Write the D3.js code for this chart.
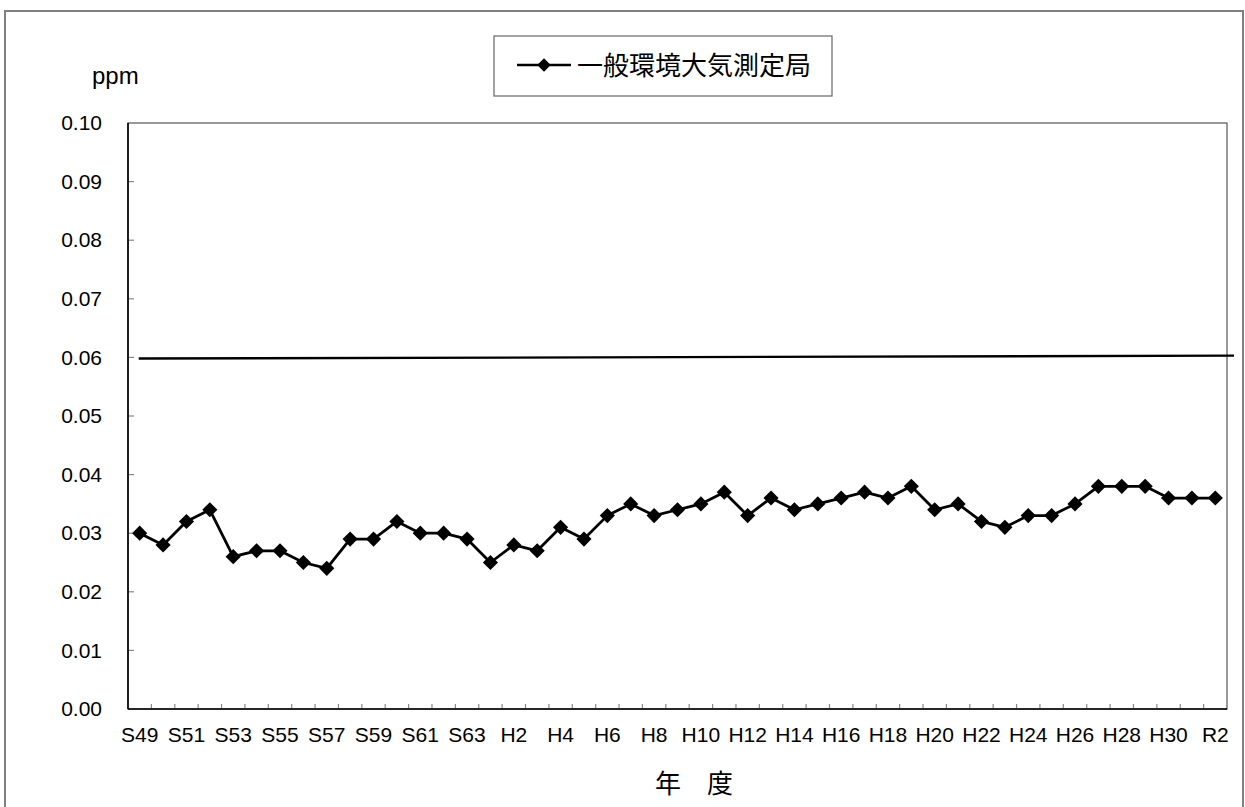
<!DOCTYPE html>
<html>
<head>
<meta charset="utf-8">
<script src="https://cdn.jsdelivr.net/npm/d3@7"></script>
<style>
    body { margin: 0; background: #fff; }
    svg text { font-family: "Liberation Sans", Arial, sans-serif; fill: #000; }
    svg text.jp { font-family: "Noto Sans CJK JP", sans-serif; }
</style>
</head>
<body>
<div id="chart"></div>
<script>
// fiscal years, Showa 49 .. Reiwa 2
var years = ['S49', 'S50', 'S51', 'S52', 'S53', 'S54', 'S55', 'S56', 'S57', 'S58',
    'S59', 'S60', 'S61', 'S62', 'S63',
    'H1', 'H2', 'H3', 'H4', 'H5', 'H6', 'H7', 'H8', 'H9', 'H10',
    'H11', 'H12', 'H13', 'H14', 'H15', 'H16', 'H17', 'H18', 'H19', 'H20',
    'H21', 'H22', 'H23', 'H24', 'H25', 'H26', 'H27', 'H28', 'H29', 'H30',
    'R1', 'R2'];

// 一般環境大気測定局 (ppm)
var generalStation = [0.030, 0.028, 0.032, 0.034, 0.026, 0.027, 0.027, 0.025, 0.024, 0.029,
    0.029, 0.032, 0.030, 0.030, 0.029,
    0.025, 0.028, 0.027, 0.031, 0.029, 0.033, 0.035, 0.033, 0.034, 0.035,
    0.037, 0.033, 0.036, 0.034, 0.035, 0.036, 0.037, 0.036, 0.038, 0.034,
    0.035, 0.032, 0.031, 0.033, 0.033, 0.035, 0.038, 0.038, 0.038, 0.036,
    0.036, 0.036];

// drawn standard line (start / end value, it is a little tilted in the original)
var standardLine = [0.0598, 0.0603];

var yTicks = [0, 0.01, 0.02, 0.03, 0.04, 0.05, 0.06, 0.07, 0.08, 0.09, 0.10];
var xTickLabels = ['S49', 'S51', 'S53', 'S55', 'S57', 'S59', 'S61', 'S63', 'H2', 'H4',
    'H6', 'H8', 'H10', 'H12', 'H14', 'H16', 'H18', 'H20', 'H22', 'H24',
    'H26', 'H28', 'H30', 'R2'];

var seriesName = '一般環境大気測定局';

var totalWidth = 1245, totalHeight = 807;
var margin = { top: 123, right: 18, bottom: 98, left: 128 },
    width = totalWidth - margin.left - margin.right,
    height = totalHeight - margin.top - margin.bottom;

var svg = d3.select('#chart')
    .append('svg')
    .attr('width', totalWidth)
    .attr('height', totalHeight);

// outer chart frame
svg.append('rect')
    .attr('x', 5).attr('y', 11)
    .attr('width', 1238).attr('height', 820)
    .attr('fill', 'none')
    .attr('stroke', '#808080')
    .attr('stroke-width', 2);

var g = svg.append('g').attr('transform', 'translate(' + margin.left + ',' + margin.top + ')');

var xScale = d3.scaleBand()
    .domain(years)
    .range([0, width]);

var yScale = d3.scaleLinear()
    .domain([0, 0.10])
    .range([height, 0]);

// plot area border
g.append('rect')
    .attr('width', width).attr('height', height)
    .attr('fill', 'none')
    .attr('stroke', '#555')
    .attr('stroke-width', 1.2);

// tick marks sit between categories, inside the plot
g.append('g')
    .selectAll('line')
    .data(years.slice(1))
    .enter()
    .append('line')
    .attr('x1', function (d) { return xScale(d); })
    .attr('x2', function (d) { return xScale(d); })
    .attr('y1', height)
    .attr('y2', height - 5)
    .attr('stroke', '#888')
    .attr('stroke-width', 1.2);

var xAxis = d3.axisBottom(xScale)
    .tickValues(xTickLabels)
    .tickSize(0)
    .tickPadding(18);

var xg = g.append('g')
    .attr('transform', 'translate(0,' + height + ')')
    .call(xAxis);
xg.select('.domain').remove();
xg.selectAll('text').style('font-size', '21px');

var yAxis = d3.axisLeft(yScale)
    .tickValues(yTicks)
    .tickSize(0)
    .tickPadding(26)
    .tickFormat(d3.format('.2f'));

var yg = g.append('g').call(yAxis);
yg.select('.domain').remove();
yg.selectAll('text').style('font-size', '21px');

g.append('g')
    .selectAll('line')
    .data(yTicks.slice(1, -1))
    .enter()
    .append('line')
    .attr('x1', 0)
    .attr('x2', 6)
    .attr('y1', function (d) { return yScale(d); })
    .attr('y2', function (d) { return yScale(d); })
    .attr('stroke', '#888')
    .attr('stroke-width', 1.2);

// black axis lines
g.append('line')
    .attr('x1', 0).attr('x2', 0)
    .attr('y1', 0).attr('y2', height)
    .attr('stroke', '#000').attr('stroke-width', 1.6);
g.append('line')
    .attr('x1', 0).attr('x2', width)
    .attr('y1', height).attr('y2', height)
    .attr('stroke', '#000').attr('stroke-width', 1.6);

// standard line, runs past the right edge of the plot
var xCenter = function (d) { return xScale(d) + xScale.bandwidth() / 2; };
g.append('line')
    .attr('x1', xCenter(years[0]) - 1)
    .attr('x2', width + 7)
    .attr('y1', yScale(standardLine[0]))
    .attr('y2', yScale(standardLine[1]))
    .attr('stroke', '#000')
    .attr('stroke-width', 2.4);

var points = years.map(function (y, i) { return { year: y, value: generalStation[i] }; });

var line = d3.line()
    .x(function (d) { return xCenter(d.year); })
    .y(function (d) { return yScale(d.value); });

g.append('path')
    .datum(points)
    .attr('fill', 'none')
    .attr('stroke', '#000')
    .attr('stroke-width', 2.8)
    .attr('stroke-linejoin', 'round')
    .attr('d', line);

var diamond = d3.symbol().type(d3.symbolSquare).size(115);

g.selectAll('.marker')
    .data(points)
    .enter()
    .append('path')
    .attr('class', 'marker')
    .attr('d', diamond)
    .attr('fill', '#000')
    .attr('transform', function (d) {
        return 'translate(' + xCenter(d.year) + ',' + yScale(d.value) + ') rotate(45)';
    });

// unit label
svg.append('text')
    .attr('x', 92)
    .attr('y', 84)
    .style('font-size', '24px')
    .text('ppm');

// axis title
svg.append('text')
    .attr('class', 'jp')
    .attr('x', 694)
    .attr('y', 793)
    .attr('text-anchor', 'middle')
    .style('font-size', '26px')
    .text('年　度');

// legend
var legend = svg.append('g');
legend.append('rect')
    .attr('x', 494).attr('y', 36)
    .attr('width', 338).attr('height', 60)
    .attr('fill', '#fff')
    .attr('stroke', '#666')
    .attr('stroke-width', 1.2);
legend.append('line')
    .attr('x1', 517).attr('x2', 571)
    .attr('y1', 65).attr('y2', 65)
    .attr('stroke', '#000').attr('stroke-width', 2.6);
legend.append('path')
    .attr('d', d3.symbol().type(d3.symbolSquare).size(90))
    .attr('fill', '#000')
    .attr('transform', 'translate(544,65) rotate(45)');
legend.append('text')
    .attr('class', 'jp')
    .attr('x', 577)
    .attr('y', 75)
    .style('font-size', '26px')
    .text(seriesName);
</script>
</body>
</html>
